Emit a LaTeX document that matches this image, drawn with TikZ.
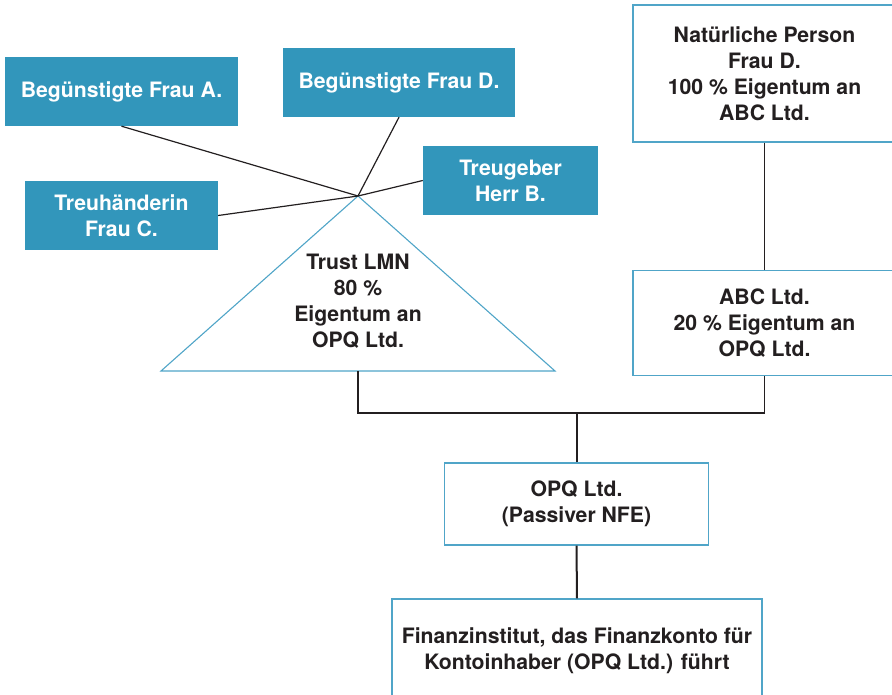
\documentclass[tikz,border=0pt]{standalone}
\usepackage{fontspec}
\setmainfont{TeX Gyre Heros}
\definecolor{boxblue}{RGB}{50,150,187}
\definecolor{edgeblue}{RGB}{80,165,200}
\definecolor{ink}{RGB}{35,31,32}
\begin{document}
\begin{tikzpicture}[x=1pt,y=-1pt,
  every node/.style={font=\fontsize{21.2}{26}\selectfont\bfseries, align=center, inner sep=0pt},
  bluebox/.style={fill=boxblue, text=white, minimum width=#1, minimum height=69},
  whitebox/.style={draw=edgeblue, line width=1.1pt, fill=white, text=ink},
  link/.style={draw=ink, line width=1.2pt},
  stem/.style={draw=ink, line width=2pt}]
\useasboundingbox (0,0) rectangle (892,695);
\clip (0,0) rectangle (892,695);

% people around the trust
\node[bluebox=233] (fA) at (121.5,91.5) {Begünstigte Frau A.};
\node[bluebox=232] (fD) at (399,82.5) {Begünstigte Frau D.};
\node[bluebox=175] (hB) at (510.5,180.5) {Treugeber\\Herr B.};
\node[bluebox=193] (fC) at (121.5,215.5) {Treuhänderin\\Frau C.};

% trust triangle
\coordinate (hub) at (358,196);
\coordinate (tl) at (161,371);
\coordinate (tr) at (555,371);
\coordinate (tb) at (358,371);
\draw[edgeblue, line width=1.1pt, fill=white] (hub) -- (tl) -- (tr) -- cycle;
\node[text=ink] (trust) at (358,301) {Trust LMN\\80 \%\\Eigentum an\\OPQ Ltd.};

\draw[link] (fA.south) -- (hub);
\draw[link] (fD.south) -- (hub);
\draw[link] (hB.west) -- (hub);
\draw[link] (fC.east) -- (hub);

% right-hand ownership chain
\node[whitebox, minimum width=263, minimum height=137] (np) at (764.5,73.5)
  {Natürliche Person\\Frau D.\\100 \% Eigentum an\\ABC Ltd.};
\node[whitebox, minimum width=263, minimum height=105] (abc) at (764.5,323)
  {ABC Ltd.\\20 \% Eigentum an\\OPQ Ltd.};
\draw[link] (np.south) -- (abc.north);

% passive NFE and account
\node[whitebox, minimum width=264, minimum height=82] (opq) at (576.5,504)
  {OPQ Ltd.\\(Passiver NFE)};
\node[whitebox, minimum width=370, minimum height=104] (fin) at (577,651)
  {Finanzinstitut, das Finanzkonto für\\Kontoinhaber (OPQ Ltd.) führt};

\coordinate (j) at (576.5,413);
\draw[link] (tb) |- (abc.south |- j) -- (abc.south);
\draw[stem] (opq.north) -- (opq.north |- j);
\draw[stem] (opq.south) -- (fin.north);
\end{tikzpicture}
\end{document}
